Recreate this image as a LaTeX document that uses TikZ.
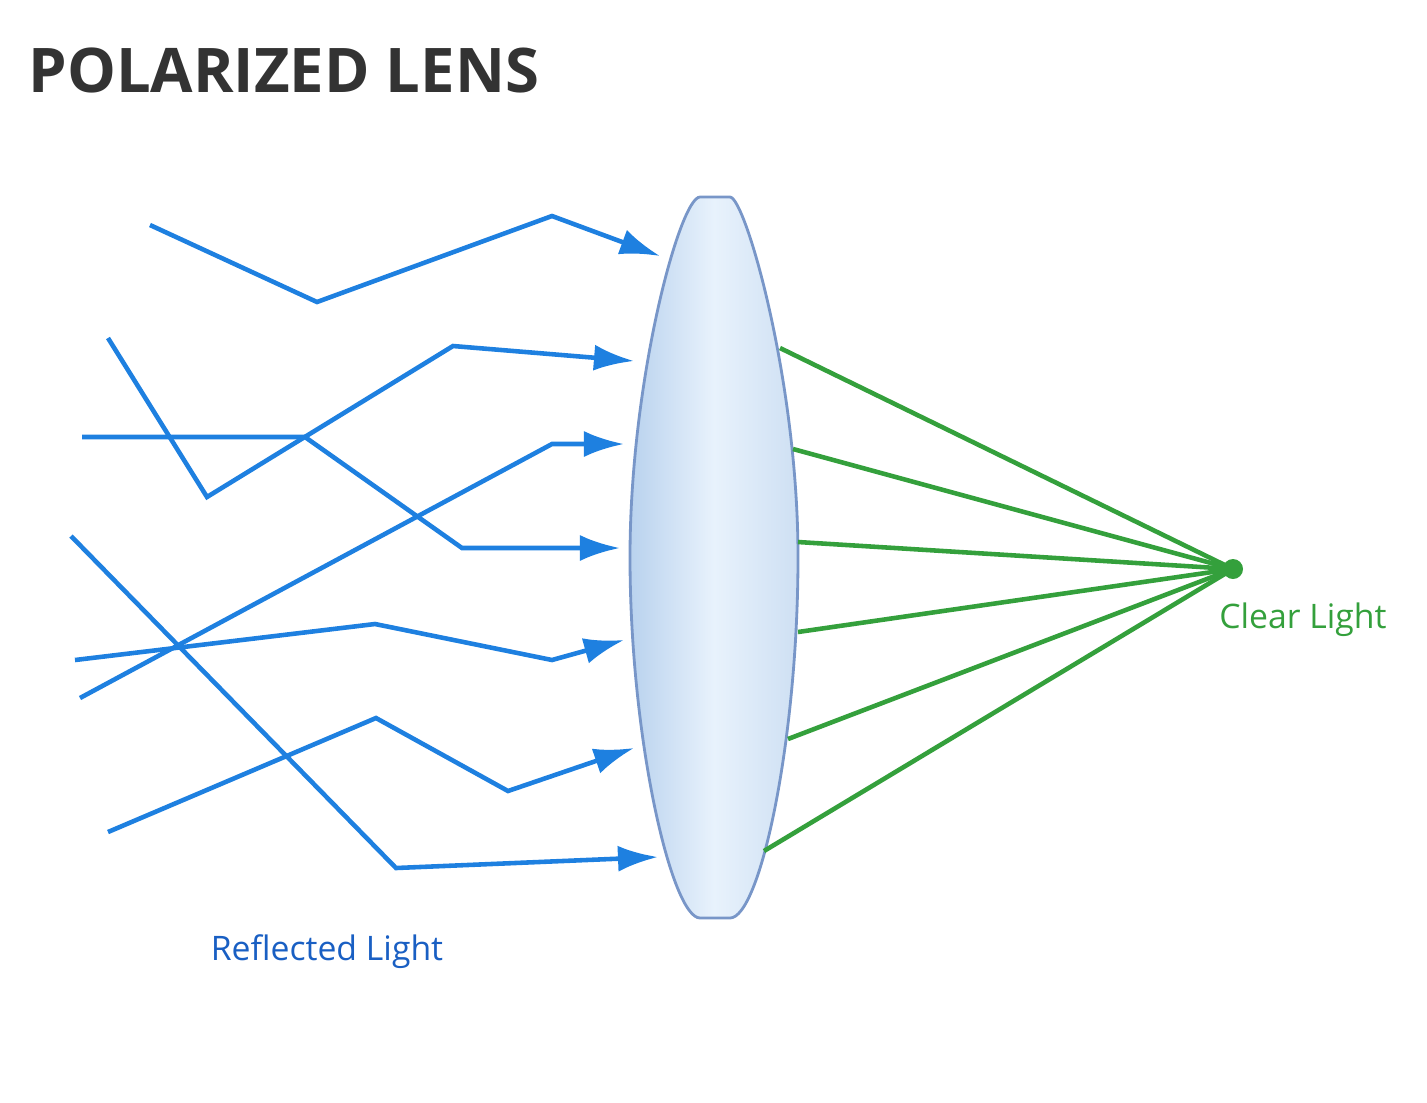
\documentclass[tikz,border=0pt]{standalone}
\usepackage{fontspec}
\setmainfont{Open Sans}
\usetikzlibrary{arrows.meta}
\definecolor{rayblue}{RGB}{30,128,224}
\definecolor{raygreen}{RGB}{52,160,60}
\definecolor{textblue}{RGB}{25,95,195}
\definecolor{lensedge}{RGB}{120,150,200}
\definecolor{lensdark}{RGB}{185,210,238}
\definecolor{lenslight}{RGB}{232,242,252}
\tikzset{
  ray/.style={draw=rayblue, line width=1.3pt, -{Latex[length=4mm,width=2.6mm]}},
  clear/.style={draw=raygreen, line width=1.3pt},
  label/.style={font=\fontsize{9.6}{12}\selectfont}
  }

\begin{document}
\begin{tikzpicture}[x=0.01cm, y=-0.01cm]
	\useasboundingbox (0,0) rectangle (1427,1102);
	% Title
	\node[anchor=west, text=black!80, font=\bfseries\fontsize{17.5}{21}\selectfont] (title) at (16,70) {POLARIZED LENS};

	% Lens
	\draw[draw=lensedge, line width=0.8pt, left color=lensdark, right color=lensdark!70, middle color=lenslight]
	  (700,197) -- (730,197) .. controls (745,197) and (798,380) .. (798,557)
	  .. controls (798,740) and (760,918) .. (730,918) -- (700,918)
	  .. controls (672,918) and (630,740) .. (630,557)
	  .. controls (630,380) and (680,197) .. (700,197) -- cycle;
	\node (lens) at (714,557) {};

	% Focal point and labels
	\node[circle, fill=raygreen, inner sep=0pt, minimum size=2mm] (focus) at (1233,569) {};
	\node[label, text=raygreen] (clear) at (1303,620) {Clear Light};
	\node[label, text=textblue] (reflected) at (327,952) {Reflected Light};

	% Reflected rays
	\coordinate (a1) at (150,225); \coordinate (b1) at (660,256);
	\coordinate (a2) at (108,338); \coordinate (b2) at (634,361);
	\coordinate (a3) at (82,437);  \coordinate (b3) at (620,548);
	\coordinate (a4) at (80,698);  \coordinate (b4) at (624,444);
	\coordinate (a5) at (75,660);  \coordinate (b5) at (624,640);
	\coordinate (a6) at (108,832); \coordinate (b6) at (634,748);
	\coordinate (a7) at (71,536);  \coordinate (b7) at (658,857);
	\draw[ray] (a1) -- (317,302) -- (552,216) -- (b1);
	\draw[ray] (a2) -- (207,497) -- (453,346) -- (b2);
	\draw[ray] (a3) -- (305,437) -- (462,548) -- (b3);
	\draw[ray] (a4) -- (552,444) -- (b4);
	\draw[ray] (a5) -- (375,624) -- (552,660) -- (b5);
	\draw[ray] (a6) -- (376,718) -- (508,791) -- (b6);
	\draw[ray] (a7) -- (396,868) -- (b7);

	% Clear rays
	\foreach \x/\y [count=\i] in {780/348, 793/449, 798/542, 798/632, 788/739, 764/851} {
	  \coordinate (c\i) at (\x,\y);
	  \draw[clear] (c\i) -- (focus.center);
	}
\end{tikzpicture}
\end{document}
